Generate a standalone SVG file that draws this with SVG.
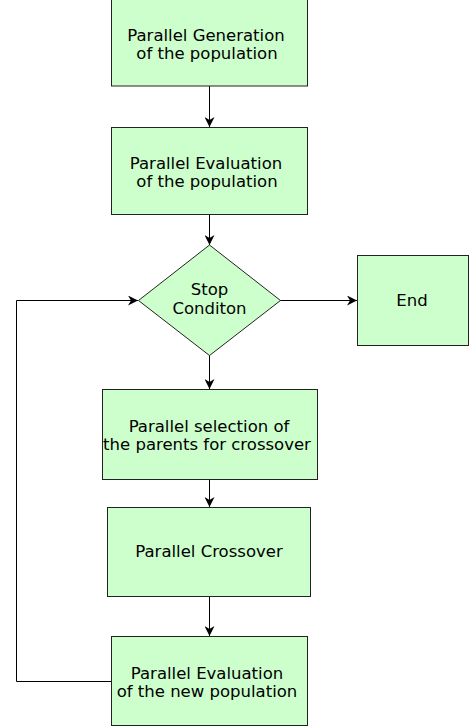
<svg xmlns="http://www.w3.org/2000/svg" width="472" height="727" viewBox="0 0 472 727">
<defs>
<marker id="ah" viewBox="0 0 10 10" refX="10" refY="5" markerWidth="10" markerHeight="10" markerUnits="userSpaceOnUse" orient="auto">
<path d="M0,0 L10,5 L0,10 L3,5 Z" fill="#000"/>
</marker>
</defs>
<style>
.n{fill:#ccffcc;stroke:#222;stroke-width:1}
.t{font-family:"DejaVu Sans",sans-serif;font-size:16.5px;fill:#000;text-anchor:middle}
.c{fill:none;stroke:#000;stroke-width:1}
</style>
<rect width="472" height="727" fill="#fff"/>
<g id="connectors">
<line class="c" x1="209.5" y1="86" x2="209.5" y2="127" marker-end="url(#ah)"/>
<line class="c" x1="209.5" y1="214" x2="209.5" y2="245" marker-end="url(#ah)"/>
<line class="c" x1="280" y1="300.5" x2="357" y2="300.5" marker-end="url(#ah)"/>
<line class="c" x1="209.5" y1="355" x2="209.5" y2="389" marker-end="url(#ah)"/>
<line class="c" x1="209.5" y1="479" x2="209.5" y2="507" marker-end="url(#ah)"/>
<line class="c" x1="209.5" y1="596" x2="209.5" y2="636" marker-end="url(#ah)"/>
<polyline class="c" points="111,681.5 16.5,681.5 16.5,300.5 138,300.5" marker-end="url(#ah)"/>
</g>
<g id="gen">
<rect class="n" x="111.5" y="-1" width="196" height="87"/>
<text class="t" x="206" y="41">Parallel Generation</text>
<text class="t" x="207" y="59">of the population</text>
</g>
<g id="eval">
<rect class="n" x="111.5" y="127.5" width="196" height="87"/>
<text class="t" x="206" y="168.5">Parallel Evaluation</text>
<text class="t" x="207" y="186.5">of the population</text>
</g>
<g id="stop">
<polygon class="n" points="209.5,245 280.5,300.5 209.5,355.5 138.5,300.5"/>
<text class="t" x="209.5" y="295">Stop</text>
<text class="t" x="209.5" y="314">Conditon</text>
</g>
<g id="end">
<rect class="n" x="357.5" y="255.5" width="111" height="90"/>
<text class="t" x="412" y="305.5">End</text>
</g>
<g id="select">
<rect class="n" x="102.5" y="389.5" width="215" height="90"/>
<text class="t" x="209" y="432">Parallel selection of</text>
<text class="t" x="207" y="450">the parents for crossover</text>
</g>
<g id="cross">
<rect class="n" x="107.5" y="507.5" width="203" height="89"/>
<text class="t" x="209" y="557">Parallel Crossover</text>
</g>
<g id="neweval">
<rect class="n" x="111.5" y="636.5" width="196" height="89"/>
<text class="t" x="207" y="678.5">Parallel Evaluation</text>
<text class="t" x="207" y="696.5">of the new population</text>
</g>
</svg>
